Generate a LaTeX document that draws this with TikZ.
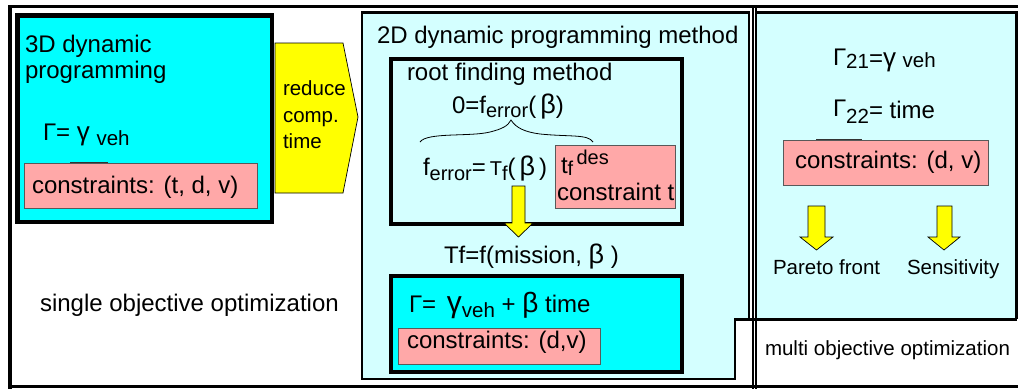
\documentclass[tikz,border=0pt]{standalone}
\usepackage{fontspec}
\setmainfont{Liberation Sans}
\definecolor{boxcyan}{HTML}{00FFFF}
\definecolor{palecyan}{HTML}{D4FFFF}
\definecolor{rose}{HTML}{FFA8A8}
\definecolor{arrowyellow}{HTML}{FFFF00}
% font size in pt, used for all labels
\newcommand\sz[1]{\fontsize{#1}{#1}\selectfont}
% lowered / raised text: shift, size, text
\newcommand\dnx[3]{\raisebox{-#1pt}{\sz{#2}#3}}
\newcommand\upx[3]{\raisebox{#1pt}{\sz{#2}#3}}
\begin{document}
\begin{tikzpicture}[x=1pt,y=-1pt,
  txt/.style={anchor=base west,inner sep=0pt,outer sep=0pt,font=\sz{24}},
  small/.style={txt,font=\sz{20.5}},
  rosebox/.style={draw=black!65,line width=0.8pt,fill=rose},
  yarrow/.style={draw=black,line width=0.7pt,fill=arrowyellow,line join=miter},
  thickbox/.style={draw=black,line width=4pt}]

\useasboundingbox (0,0) rectangle (1018,389);
\fill[white] (0,0) rectangle (1018,389);

% ---------- 2D dynamic programming panel (with notched lower-right corner)
\draw[line width=2.8pt,fill=palecyan,line join=miter]
  (362,12.5) -- (749,12.5) -- (749,319) -- (735,319) -- (735,379) -- (362,379) -- cycle;

% ---------- multi objective panel
\fill[palecyan] (756,12.5) rectangle (1016.5,319);
\draw[line width=2.5pt] (756,12.5) -- (1016.5,12.5) -- (1016.5,319);
\draw[line width=3pt] (735,319) -- (1016.5,319);

% ---------- outer frame lines
\draw[line width=3pt] (8.5,6.5) -- (1018,6.5);
\draw[line width=3.5pt] (8.5,386.5) -- (1018,386.5);
\draw[line width=3.3pt] (10,5) -- (10,389);
\draw[line width=1.6pt] (753,5) -- (753,389);
\draw[line width=2.2pt] (756,5) -- (756,389);

% ---------- 3D dynamic programming
\draw[line width=4.5pt,fill=boxcyan] (17.5,15.5) rectangle (272,222);
\node[txt] (t3d) at (25,52) {3D dynamic};
\node[txt] (t3db) at (25,78) {programming};
\node[txt] (g3d) at (43,140) {Γ= {\sz{26}γ} \dnx{5}{20.5}{veh}};
\draw[rosebox] (24,163) rectangle (257,208);
\draw[line width=1.5pt,black!80] (70,162.5) -- (108,162.5);
\node[txt] (c3d) at (32,193) {constraints: (t, d, v)};

% ---------- reduce computation time arrow
\draw[yarrow] (275,43) -- (343,43) -- (358,117) -- (343,193) -- (275,193) -- cycle;
\node[small] (red1) at (283,95) {reduce};
\node[small] (red2) at (283,122) {comp.};
\node[small] (red3) at (283,148) {time};

\node[txt] (single) at (40,311) {single objective optimization};

% ---------- 2D method contents
\node[txt] (t2d) at (377,43) {2D dynamic programming method};
\draw[thickbox,fill=palecyan] (391,59) rectangle (681.5,224);
\node[txt] (root) at (407,80) {root finding method};
\node[txt] (zero) at (452,113) {0=f\dnx{4}{20}{error}(\,{\sz{27}β})};
\draw[line width=0.8pt]
  (420,142) .. controls (427,132) and (470,137) .. (490,132)
  .. controls (502,129) and (508,126) .. (511,120)
  .. controls (516,128) and (525,132) .. (540,134)
  .. controls (570,137) and (588,134) .. (593,142);
\node[txt] (ferr) at (423,175)
  {f\dnx{5}{20}{error}=\,{\sz{20}T}\dnx{5}{20}{f}(\,{\sz{27}β}\,)\hspace{8pt}-};
\draw[rosebox] (555,145) rectangle (675,208);
\node[txt] (tdes) at (561,173) {t\dnx{2}{20}{f}\upx{9}{20}{\,des}};
\node[txt] (ct) at (557,200) {constraint t};
\draw[yarrow] (512,186) -- (525,186) -- (525,223) -- (533,223) -- (518.5,237)
  -- (504,223) -- (512,223) -- cycle;
\node[txt] (tf) at (444,263) {Tf=f(mission, {\sz{27}β} )};
\draw[thickbox,fill=boxcyan] (391,276) rectangle (682,372);
\node[txt] (g2d) at (409,312)
  {Γ= \,{\sz{30}γ}\dnx{5}{20.5}{veh} + {\sz{28}β} time};
\draw[rosebox] (398,328) rectangle (600,364);
\node[txt] (c2d) at (407,348) {constraints: (d,v)};

% ---------- multi objective contents
\node[txt] (g21) at (833,66) {\upx{1}{24}{Γ}\dnx{2}{20.5}{21}={\sz{26}γ} \dnx{1}{20.5}{veh}};
\node[txt] (g22) at (833,118) {\upx{2}{24}{Γ}\dnx{5}{20.5}{22}= time};
\draw[rosebox] (783,140) rectangle (988,185);
\draw[line width=1.5pt,black!80] (816,139.5) -- (862,139.5);
\node[txt] (cmo) at (795,168) {constraints: (d, v)};
\draw[yarrow] (808,206) -- (825,206) -- (825,237) -- (833,237) -- (816.5,250)
  -- (800,237) -- (808,237) -- cycle;
\draw[yarrow] (937,206) -- (952,206) -- (952,237) -- (960,237) -- (944,250)
  -- (928,237) -- (937,237) -- cycle;
\node[small] (pareto) at (773,274) {Pareto front};
\node[small] (sens) at (907,274) {Sensitivity};
\node[small] (multi) at (765,355) {multi objective optimization};
\end{tikzpicture}
\end{document}
